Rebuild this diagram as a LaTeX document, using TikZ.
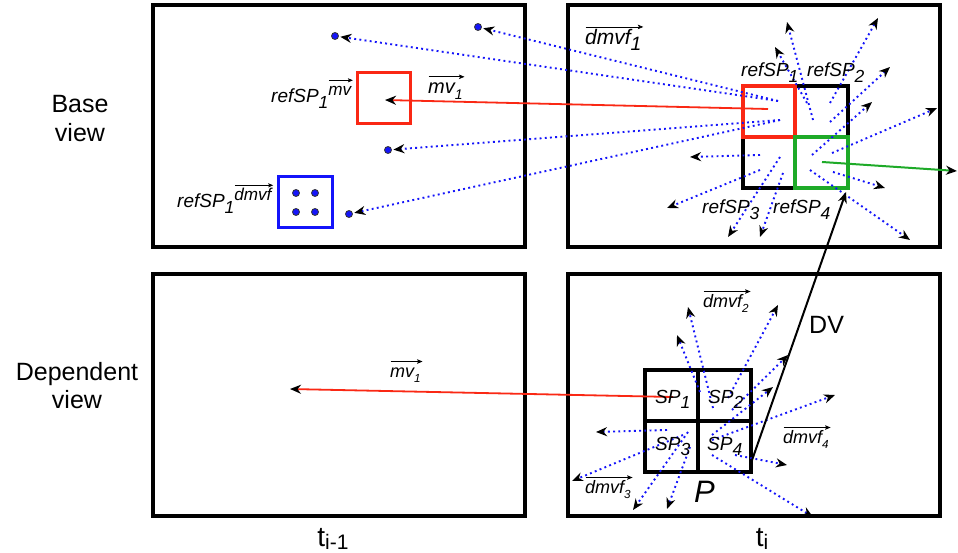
\documentclass[tikz,border=0pt]{standalone}
\usepackage{fontspec}
\setmainfont{Liberation Sans}
\usepackage{graphicx}
\usetikzlibrary{arrows.meta}
\definecolor{myred}{RGB}{250,40,20}
\definecolor{mygreen}{RGB}{30,170,40}
\definecolor{myblue}{RGB}{20,20,250}
\newlength\ovrw
\newcommand\lo[2][0.92]{\raisebox{-0.28em}{\scalebox{#1}{#2}}}
\newcommand\hi[1]{\raisebox{0.42em}{\scalebox{0.9}{#1}}}
\newcommand\ovr[1]{\settowidth\ovrw{#1}\leavevmode\rlap{\raisebox{0.86em}{\tikz[baseline=0pt]\draw[line width=0.7pt,-{Stealth[length=5.5pt,width=4.5pt,inset=1.2pt]}] (0pt,0pt) -- (\ovrw+1.5pt,0pt);}}#1}
\begin{document}
\begin{tikzpicture}[x=1pt,y=-1pt,
  frame/.style={draw=black,line width=3.2pt,inner sep=0pt,minimum width=372pt,minimum height=242pt},
  gridbox/.style={draw=black,line width=3.5pt,inner sep=0pt},
  redbox/.style={draw=myred,line width=3.8pt,inner sep=0pt},
  greenbox/.style={draw=mygreen,line width=3.8pt,inner sep=0pt},
  bluebox/.style={draw=myblue,line width=3pt,inner sep=0pt,minimum size=51pt},
  smallred/.style={draw=myred,line width=3pt,inner sep=0pt,minimum size=51pt},
  tipb/.tip={Stealth[length=11pt,width=9pt,inset=3.5pt,color=black]},
  vec/.style={draw=myblue,line width=1.9pt,dash pattern=on 1.9pt off 3.3pt,-tipb},
  mvline/.style={draw=myred,line width=1.8pt,-tipb},
  gline/.style={draw=mygreen,line width=2pt,-tipb},
  dvline/.style={draw=black,line width=2pt,-tipb},
  dot/.style={circle,fill=myblue,draw=black!80,line width=0.8pt,inner sep=0pt,minimum size=7pt},
  lbl/.style={font=\fontsize{19}{22}\selectfont\itshape,inner sep=0pt,anchor=base west},
  side/.style={font=\fontsize{25}{28}\selectfont,inner sep=0pt,anchor=base},
  tlab/.style={font=\fontsize{28}{30}\selectfont,inner sep=0pt,anchor=base}
]
\fill[white] (0,0) rectangle (958,553);
\useasboundingbox (0,0) rectangle (958,553);

% side labels
\node[side] (b1) at (80,113) {Base};
\node[side] (b2) at (80,142) {view};
\node[side] (d1t) at (77,380) {Dependent};
\node[side] (d2t) at (77,408) {view};

% frames
\node[frame] (tl) at (339,126) {};
\node[frame] (tr) at (754,126) {};
\node[frame] (bl) at (339,395) {};
\node[frame] (br) at (754,395) {};

% time labels
\node[tlab] (tim1) at (333,546) {t\raisebox{-3pt}{\fontsize{21}{21}\selectfont i-1}};
\node[tlab] (ti) at (762,546) {t\raisebox{-3pt}{\fontsize{21}{21}\selectfont i}};

% top-left boxes
\node[smallred,minimum width=53pt] (rb) at (383.5,98.5) {};
\node[bluebox,minimum width=54pt] (bb) at (305,202.5) {};
\node[dot] (q1) at (296,193) {};
\node[dot] (q2) at (315,193) {};
\node[dot] (q3) at (296,212) {};
\node[dot] (q4) at (315,212) {};

% top-right grid
\node[gridbox,minimum width=105pt,minimum height=102pt] (tgrid) at (795.5,137) {};
\node[redbox,minimum width=52pt,minimum height=51pt] (rsp1) at (769,111.5) {};
\node[greenbox,minimum width=53pt,minimum height=51pt] (rsp4) at (821.5,162.5) {};

% bottom-right grid
\node[gridbox,minimum width=53pt,minimum height=51pt] (sp1) at (671.5,395.5) {};
\node[gridbox,minimum width=53pt,minimum height=51pt] (sp2) at (724.5,395.5) {};
\node[gridbox,minimum width=53pt,minimum height=51pt] (sp3) at (671.5,446.5) {};
\node[gridbox,minimum width=53pt,minimum height=51pt] (sp4) at (724.5,446.5) {};

% dots in the left frame
\node[dot] (e1) at (478,27) {};
\node[dot] (e2) at (335,36) {};
\node[dot] (e3) at (388,150) {};
\node[dot] (e4) at (349,214) {};
\coordinate (ra) at (778,101);
\coordinate (rb2) at (780,120);
\draw[vec,shorten >=1.5pt] (ra) -- (e1);
\draw[vec,shorten >=1.5pt] (ra) -- (e2);
\draw[vec,shorten >=1.5pt] (rb2) -- (e3);
\draw[vec,shorten >=1.5pt] (rb2) -- (e4);

% radiating motion vectors
\foreach \sx/\sy/\tx/\ty [count=\i] in {
  813/120/787/22, 807/103/775/47, 830/103/878/18, 830/122/890/67,
  812/155/872/102, 832/153/937/108, 833/172/885/188, 810/170/910/240,
  760/155/690/157, 760/170/667/208, 780/157/728/237, 783/173/760/237,
  713/408/688/307, 700/392/677/335, 728/398/778/305, 732/410/788/355,
  712/435/773/387, 712/440/835/395, 735/455/787/465, 712/455/813/517,
  667/430/596/432, 683/435/572/481, 688/432/633/510, 690/447/667/509}{
  \coordinate (va\i) at (\sx,\sy);
  \coordinate (vb\i) at (\tx,\ty);
  \draw[vec] (va\i) -- (vb\i);
}

% mv arrows
\coordinate (mvs1) at (768,109);
\coordinate (mvt1) at (385,100);
\draw[mvline] (mvs1) -- (mvt1);
\coordinate (mvs2) at (673,397);
\coordinate (mvt2) at (290,389);
\draw[mvline] (mvs2) -- (mvt2);

% green arrow
\coordinate (gs) at (822,162);
\coordinate (gt) at (957,171);
\draw[gline] (gs) -- (gt);

% DV arrow
\coordinate (dvs) at (751,463);
\coordinate (dvt) at (846,192);
\draw[dvline] (dvs) -- (dvt);
\node[font=\fontsize{25}{27}\selectfont,inner sep=0pt,anchor=base west] (dv) at (809,333) {DV};

% labels top-left
\node[lbl] (l1) at (271,103) {refSP\lo{1}\hi{\ovr{mv}}};
\node[lbl] (l2) at (177,208) {refSP\lo{1}\hi{\ovr{dmvf}}};
\node[lbl,font=\fontsize{20}{22}\selectfont\itshape] (l3) at (428,94) {\ovr{mv\lo[0.7]{1}}};

% labels top-right
\node[lbl,font=\fontsize{21}{24}\selectfont\itshape] (l4) at (585,45) {\ovr{dmvf\lo{1}}};
\node[lbl] (r1l) at (741,77) {refSP\lo{1}};
\node[lbl] (r2l) at (807,77) {refSP\lo{2}};
\node[lbl] (r3l) at (702,214) {refSP\lo{3}};
\node[lbl] (r4l) at (773,214) {refSP\lo{4}};

% labels bottom
\node[lbl] (s1l) at (655,403) {SP\lo{1}};
\node[lbl] (s2l) at (708,403) {SP\lo{2}};
\node[lbl] (s3l) at (655,450) {SP\lo{3}};
\node[lbl] (s4l) at (707,450) {SP\lo{4}};
\node[lbl,font=\fontsize{31}{33}\selectfont\itshape] (pl) at (694,502) {P};
\node[lbl,font=\fontsize{18}{20}\selectfont\itshape] (m2l) at (703,307) {\ovr{dmvf\lo[0.65]{2}}};
\node[lbl,font=\fontsize{18}{20}\selectfont\itshape] (m4l) at (783,443) {\ovr{dmvf\lo[0.65]{4}}};
\node[lbl,font=\fontsize{18}{20}\selectfont\itshape] (m3l) at (585,493) {\ovr{dmvf\lo[0.65]{3}}};
\node[lbl,font=\fontsize{18}{20}\selectfont\itshape] (mbl) at (390,377) {\ovr{mv\lo[0.65]{1}}};
\end{tikzpicture}
\end{document}
